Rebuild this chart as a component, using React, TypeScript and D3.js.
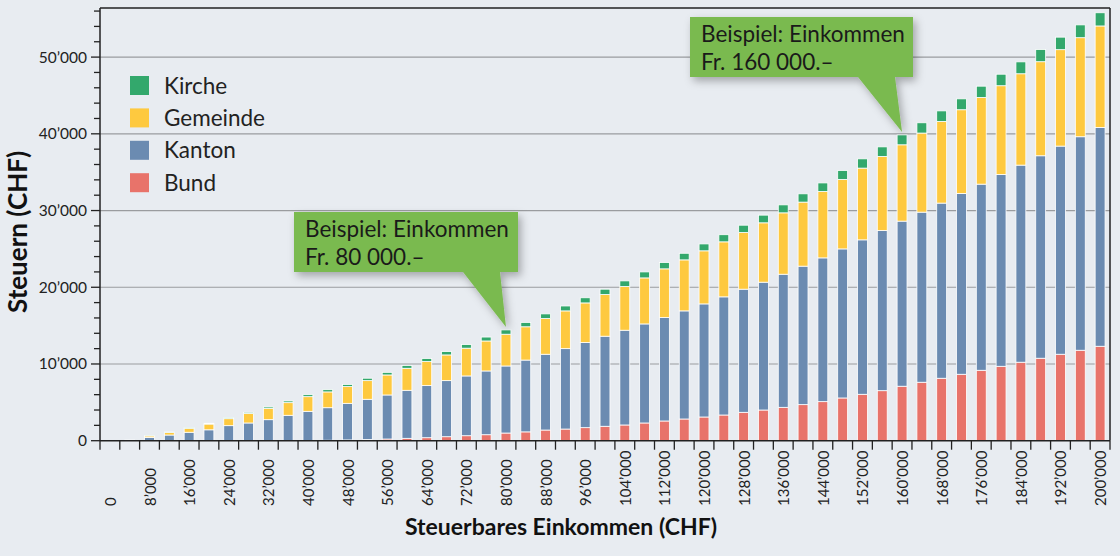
import React from 'react';
import * as d3 from 'd3';

const incomes = [0, 4000, 8000, 12000, 16000, 20000, 24000, 28000, 32000, 36000, 40000, 44000, 48000, 52000, 56000, 60000, 64000, 68000, 72000, 76000, 80000, 84000, 88000, 92000, 96000, 100000, 104000, 108000, 112000, 116000, 120000, 124000, 128000, 132000, 136000, 140000, 144000, 148000, 152000, 156000, 160000, 164000, 168000, 172000, 176000, 180000, 184000, 188000, 192000, 196000, 200000];

const bund = [0, 0, 0, 0, 0, 0, 0, 0, 0, 0, 30, 60, 100, 150, 220, 310, 390, 520, 650, 780, 1000, 1150, 1390, 1520, 1700, 1880, 2050, 2310, 2570, 2830, 3090, 3350, 3700, 4000, 4350, 4700, 5090, 5570, 6050, 6520, 7100, 7620, 8140, 8660, 9180, 9700, 10230, 10750, 11270, 11790, 12310];
const kanton = [0, 50, 410, 740, 1100, 1420, 1960, 2310, 2740, 3310, 3800, 4240, 4770, 5250, 5740, 6260, 6790, 7310, 7790, 8310, 8740, 9360, 9880, 10480, 11090, 11740, 12350, 12910, 13480, 14090, 14740, 15400, 16050, 16660, 17350, 18050, 18740, 19430, 20130, 20870, 21520, 22170, 22830, 23560, 24260, 25000, 25690, 26390, 27130, 27830, 28520];
const gemeinde = [0, 30, 210, 345, 520, 750, 910, 1230, 1480, 1650, 1910, 2060, 2180, 2430, 2610, 2870, 3130, 3350, 3620, 3910, 4140, 4340, 4650, 4920, 5170, 5430, 5690, 6000, 6350, 6650, 6920, 7170, 7380, 7740, 8000, 8350, 8650, 9050, 9350, 9660, 9950, 10310, 10640, 10920, 11300, 11570, 11910, 12260, 12570, 12910, 13230];
const kirche = [0, 0, 30, 45, 70, 100, 130, 160, 180, 220, 260, 290, 285, 315, 340, 370, 410, 435, 470, 510, 560, 570, 610, 640, 670, 700, 740, 780, 820, 860, 900, 930, 960, 1000, 1040, 1080, 1120, 1170, 1210, 1250, 1290, 1340, 1380, 1420, 1470, 1500, 1550, 1590, 1630, 1670, 1720];

const seriesKeys = ['bund', 'kanton', 'gemeinde', 'kirche'];
const seriesNames: Record<string, string> = { bund: 'Bund', kanton: 'Kanton', gemeinde: 'Gemeinde', kirche: 'Kirche' };
const seriesColors: Record<string, string> = { bund: '#e8736a', kanton: '#6b8bb1', gemeinde: '#fec93f', kirche: '#33a86c' };
const legendOrder = ['kirche', 'gemeinde', 'kanton', 'bund'];

const yTicks = [0, 10000, 20000, 30000, 40000, 50000];
const xLabelIncomes = [0, 8000, 16000, 24000, 32000, 40000, 48000, 56000, 64000, 72000, 80000, 88000, 96000, 104000, 112000, 120000, 128000, 136000, 144000, 152000, 160000, 168000, 176000, 184000, 192000, 200000];

const callouts = [
  { income: 80000, line1: 'Beispiel: Einkommen', line2: 'Fr. 80 000.–', box: [294, 212, 224, 60], base: [463, 500] },
  { income: 160000, line1: 'Beispiel: Einkommen', line2: 'Fr. 160 000.–', box: [690, 17, 223, 60], base: [858, 895] },
];

const W = 1120, H = 556;
const left = 100, right = 1110, top = 8, bottom = 440.7;
const FONT = 'Lato, "Open Sans", sans-serif';

const fmt = (v: number) => d3.format(',')(v).replace(/,/g, '\u2019');

export default function App() {
  const table = incomes.map((inc, i) => ({ income: inc, bund: bund[i], kanton: kanton[i], gemeinde: gemeinde[i], kirche: kirche[i] }));
  const stacked = d3.stack<any>().keys(seriesKeys)(table);

  const x = d3.scaleBand<number>().domain(incomes).range([left, right]).paddingInner(0.5).paddingOuter(0.25);
  const y = d3.scaleLinear().domain([0, 56400]).range([bottom, top]);
  const minorTicks = d3.range(0, 56001, 2000);
  const bw = x.bandwidth();
  const step = x.step();
  const boundaryTicks = d3.range(0, incomes.length + 1).map(k => left + k * step);

  return (
    <svg width={W} height={H} style={{ position: 'absolute', left: 0, top: 0 }} fontFamily={FONT}>
      <defs>
        <filter id="shadow" x="-20%" y="-20%" width="150%" height="160%">
          <feDropShadow dx="3" dy="4" stdDeviation="4" floodColor="#000" floodOpacity="0.3" />
        </filter>
      </defs>
      <rect x={0} y={0} width={W} height={H} fill="#e8ecf1" />

      {yTicks.filter(t => t > 0).map(t => (
        <line key={'g' + t} x1={left} x2={right} y1={y(t)} y2={y(t)} stroke="#9a9c9f" strokeWidth={1.2} />
      ))}

      {stacked.map(s => (
        <g key={s.key} fill={seriesColors[s.key]}>
          {s.map((d, i) => {
            const h = y(d[0]) - y(d[1]);
            if (h <= 0) return null;
            return <rect key={i} x={x(incomes[i])} y={y(d[1])} width={bw} height={h} stroke="#ffffff" strokeWidth={0.8} />;
          })}
        </g>
      ))}

      <line x1={left} x2={right} y1={top} y2={top} stroke="#222" strokeWidth={1.5} />
      <line x1={right} x2={right} y1={top} y2={bottom} stroke="#222" strokeWidth={1.5} />
      <line x1={left} x2={left} y1={top} y2={bottom} stroke="#222" strokeWidth={1.5} />
      <line x1={left} x2={right} y1={bottom} y2={bottom} stroke="#222" strokeWidth={1.5} />

      {minorTicks.map(t => (
        <line key={'m' + t} x1={t % 10000 === 0 ? 91 : 94} x2={left} y1={y(t)} y2={y(t)} stroke="#222" strokeWidth={1.3} />
      ))}
      {yTicks.map(t => (
        <text key={'yl' + t} x={87} y={y(t)} dy="0.35em" textAnchor="end" fontSize={15.5} fill="#222">{fmt(t)}</text>
      ))}
      <text transform={`translate(27,232) rotate(-90)`} textAnchor="middle" fontSize={26} fontWeight={700} fill="#111">Steuern (CHF)</text>

      {boundaryTicks.map((bx, k) => (
        <line key={'xt' + k} x1={bx} x2={bx} y1={bottom} y2={bottom + 9} stroke="#222" strokeWidth={1.3} />
      ))}
      {xLabelIncomes.map(v => (
        <text key={'xl' + v} transform={`translate(${(x(v) as number) + bw / 2 + 6},506) rotate(-90)`} textAnchor="start" fontSize={15} fill="#222">{fmt(v)}</text>
      ))}
      <text x={561} y={535} textAnchor="middle" fontSize={23} fontWeight={700} fill="#111">Steuerbares Einkommen (CHF)</text>

      {legendOrder.map((k, i) => (
        <g key={'lg' + k} transform={`translate(130,${76 + i * 32.4})`}>
          <rect x={0} y={0} width={19} height={19} fill={seriesColors[k]} />
          <text x={34} y={9.5} dy="0.36em" fontSize={22.5} fill="#222">{seriesNames[k]}</text>
        </g>
      ))}

      {callouts.map((c, i) => {
        const idx = incomes.indexOf(c.income);
        const tipX = (x(c.income) as number) + bw / 2;
        const total = bund[idx] + kanton[idx] + gemeinde[idx] + kirche[idx];
        const tipY = y(total) - 3;
        const [bx, by, bwid, bh] = c.box;
        const path = `M${bx},${by} H${bx + bwid} V${by + bh} H${c.base[1]} L${tipX},${tipY} L${c.base[0]},${by + bh} H${bx} Z`;
        return (
          <g key={'c' + i}>
            <path d={path} fill="#7aba4f" filter="url(#shadow)" />
            <text x={bx + 11} y={by + 25} fontSize={22.5} fill="#1a1a1a">{c.line1}</text>
            <text x={bx + 11} y={by + 53} fontSize={22.5} fill="#1a1a1a">{c.line2}</text>
          </g>
        );
      })}
    </svg>
  );
}
